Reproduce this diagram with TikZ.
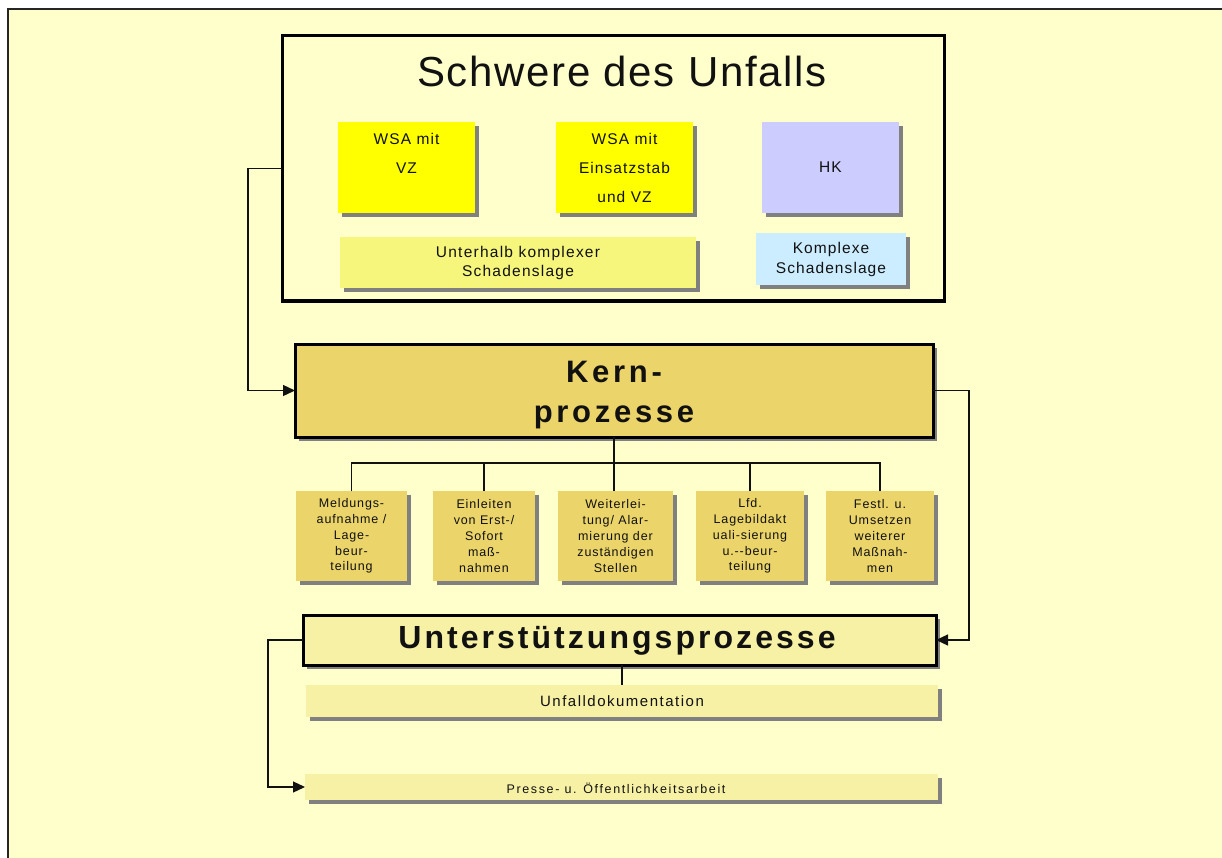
\documentclass[tikz,border=0pt]{standalone}
\usepackage{fontspec}
\setmainfont{Liberation Sans}
\usetikzlibrary{arrows.meta,shadows}
\definecolor{bgyellow}{HTML}{FFFFCC}
\definecolor{brightyellow}{HTML}{FFFF00}
\definecolor{lavender}{HTML}{CCCCFF}
\definecolor{limeyellow}{HTML}{F6F67D}
\definecolor{paleblue}{HTML}{CCECFF}
\definecolor{gold}{HTML}{EBD469}
\definecolor{paleyellow}{HTML}{F6F1A5}
\definecolor{shadowgray}{HTML}{808080}
\definecolor{ink}{HTML}{111111}
\newcommand{\lsp}[1]{\addfontfeatures{LetterSpace=#1}}
\tikzset{
  box/.style={rectangle, anchor=north west, inner sep=0pt, outer sep=0pt, text=ink, align=center},
  shad/.style={drop shadow={fill=shadowgray, opacity=1, shadow xshift=4pt, shadow yshift=-4pt}},
  thickframe/.style={draw=black, line width=3pt},
  conn/.style={draw=ink, line width=1.3pt},
  arr/.style={conn, -{Triangle[length=12pt,width=11pt]}},
  procbox/.style={box, shad, fill=gold, minimum height=90pt, font=\fontsize{12.5}{15.8}\selectfont\lsp{7}},
  smallbox/.style={box, shad, minimum height=91pt, minimum width=137pt, font=\fontsize{15.5}{29}\selectfont\lsp{7}},
  heading/.style={text=ink, inner sep=0pt, align=center},
}
\begin{document}
\begin{tikzpicture}[x=1pt,y=-1pt]
\useasboundingbox (0,0) rectangle (1222,858);
\fill[white] (0,0) rectangle (1222,858);
\fill[bgyellow] (8,9) rectangle (1222,858);
\draw[draw=black!85, line width=1.5pt] (8,858) -- (8,9) -- (1222,9);

% Schwere des Unfalls
\node[box, thickframe, fill=bgyellow, minimum width=662pt, minimum height=265pt] (schwere) at (282,36) {};
\node[heading, font=\fontsize{42}{48}\selectfont\lsp{4}] (title) at (622,71) {Schwere des Unfalls};
\node[smallbox, fill=brightyellow] (wsa1) at (338,122) {WSA mit\\VZ\\~};
\node[smallbox, fill=brightyellow] (wsa2) at (556,122) {WSA mit\\Einsatzstab\\und VZ};
\node[smallbox, fill=lavender] (hk) at (762,122) {HK};
\node[box, shad, fill=limeyellow, minimum width=356pt, minimum height=51pt, font=\fontsize{15.5}{19}\selectfont\lsp{8}] (unterhalb) at (340,237) {Unterhalb komplexer\\Schadenslage};
\node[box, shad, fill=paleblue, minimum width=150pt, minimum height=52pt, font=\fontsize{15.5}{20}\selectfont\lsp{7}] (komplex) at (756,233) {Komplexe\\Schadenslage};

% Kernprozesse
\node[box, thickframe, shad, fill=gold, minimum width=638pt, minimum height=93pt] (kern) at (295,344) {};
\node[heading, font=\fontsize{31}{40}\selectfont\bfseries\lsp{12}] (kerntext) at (614,395) {Kern-\\prozesse};

\node[procbox, minimum width=111pt] (p1) at (296,491) {Meldungs-\\aufnahme /\\Lage-\\beur-\\teilung};
\node[procbox, minimum width=102pt] (p2) at (433,491) {Einleiten\\von Erst-/\\Sofort\\maß-\\nahmen};
\node[procbox, minimum width=115pt] (p3) at (558,491) {Weiterlei-\\tung/ Alar-\\mierung der\\zuständigen\\Stellen};
\node[procbox, minimum width=108pt] (p4) at (696,491) {Lfd.\\Lagebildakt\\uali-sierung\\u.-{}-beur-\\teilung};
\node[procbox, minimum width=108pt] (p5) at (826,491) {Festl. u.\\Umsetzen\\weiterer\\Maßnah-\\men};

% Unterstuetzungsprozesse
\node[box, thickframe, shad, fill=paleyellow, minimum width=633pt, minimum height=50pt] (unt) at (303,615) {};
\node[heading, font=\fontsize{32}{38}\selectfont\bfseries\lsp{9.5}] (unttext) at (617,641) {Unterstützungsprozesse};
\node[box, shad, fill=paleyellow, minimum width=632pt, minimum height=32pt, font=\fontsize{15}{18}\selectfont\lsp{10}] (unfall) at (306,685) {Unfalldokumentation};
\node[box, shad, fill=paleyellow, minimum width=633pt, minimum height=26pt] (presse) at (305,774) {};
\node[heading, font=\fontsize{12.5}{14}\selectfont\lsp{13}] (pressetext) at (616,788) {Presse- u. Öffentlichkeitsarbeit};

% connectors
\draw[arr] (schwere.west) -- ++(-34,0) |- (kern.west);
\draw[arr] (kern.east) -- ++(36,0) |- (unt.east);
\draw[arr] (unt.west) -- ++(-35,0) |- (presse.west);

\coordinate (bar) at (614,463);
\draw[conn] (kern.south) -- (kern.south |- p3.north);
\draw[conn] (p1.north) |- (bar) -| (p5.north);
\draw[conn] (p2.north) -- (p2.north |- bar);
\draw[conn] (p4.north) -- (p4.north |- bar);
\draw[conn] (unfall.north) -- (unfall.north |- unt.south);
\end{tikzpicture}
\end{document}
